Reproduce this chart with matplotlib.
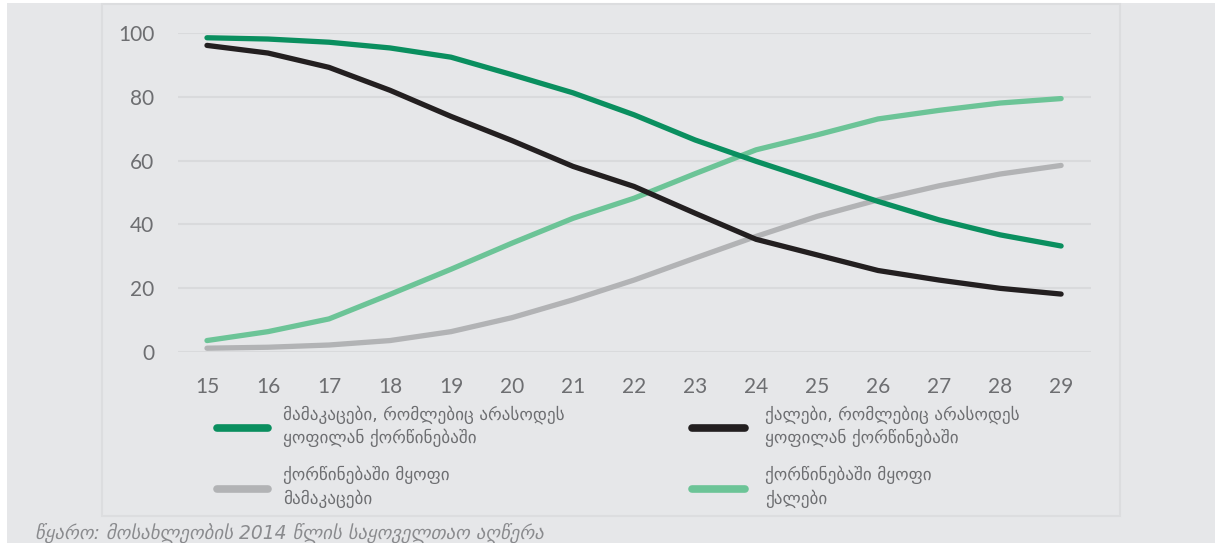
import matplotlib
matplotlib.use("Agg")
import matplotlib.pyplot as plt
from matplotlib.patches import Rectangle
from matplotlib.lines import Line2D

plt.rcParams['font.family'] = ['Lato', 'DejaVu Sans']

ages = list(range(15, 30))
men_never = [98.6, 98.2, 97.2, 95.4, 92.5, 87.0, 81.3, 74.4, 66.5, 59.8, 53.5, 47.2, 41.4, 36.7, 33.2]
women_never = [96.2, 93.8, 89.3, 82.1, 73.9, 66.3, 58.2, 51.9, 43.5, 35.3, 30.4, 25.5, 22.5, 19.9, 18.1]
men_married = [1.1, 1.4, 2.1, 3.5, 6.3, 10.7, 16.3, 22.5, 29.4, 36.2, 42.5, 47.7, 52.1, 55.8, 58.5]
women_married = [3.5, 6.3, 10.3, 18.0, 25.9, 34.1, 41.9, 48.2, 55.9, 63.4, 68.1, 73.1, 75.8, 78.1, 79.5]
y_ticks = [0, 20, 40, 60, 80, 100]

labels = [
    "მამაკაცები, რომლებიც არასოდეს\nყოფილან ქორწინებაში",
    "ქალები, რომლებიც არასოდეს\nყოფილან ქორწინებაში",
    "ქორწინებაში მყოფი\nმამაკაცები",
    "ქორწინებაში მყოფი\nქალები",
]
source_text = "წყარო: მოსახლეობის 2014 წლის საყოველთაო აღწერა"

c_men_never = '#0a8f5f'
c_women_never = '#231f20'
c_men_married = '#b2b3b5'
c_women_married = '#6cc497'
bg = '#e6e7e9'
border = '#dcdddf'
tick_color = '#6d6e71'

W, H = 1215, 543
fig = plt.figure(figsize=(W / 100, H / 100), dpi=100, facecolor='white')

# outer gray background
fig.patches.append(Rectangle((7 / W, 0), 1 - 7 / W, 1 - 3 / H, transform=fig.transFigure,
                             facecolor=bg, edgecolor='none', zorder=-2))
# inner panel border
fig.patches.append(Rectangle((102 / W, 1 - 516 / H), (1120 - 102) / W, (516 - 4) / H,
                             transform=fig.transFigure, facecolor=bg, edgecolor=border,
                             linewidth=1.5, zorder=-1))

ax_left = 178 / W
ax_right = 1091 / W
ax_bottom = 1 - 351.7 / H
ax_top = 1 - 33.3 / H
ax = fig.add_axes([ax_left, ax_bottom, ax_right - ax_left, ax_top - ax_bottom])
ax.set_facecolor('none')
ax.set_xlim(14.525, 29.49)
ax.set_ylim(0, 100)

ax.plot(ages, men_married, color=c_men_married, lw=3.8, solid_capstyle='round', clip_on=False, zorder=3)
ax.plot(ages, women_married, color=c_women_married, lw=3.8, solid_capstyle='round', clip_on=False, zorder=4)
ax.plot(ages, women_never, color=c_women_never, lw=3.8, solid_capstyle='round', clip_on=False, zorder=5)
ax.plot(ages, men_never, color=c_men_never, lw=3.8, solid_capstyle='round', clip_on=False, zorder=6)

ax.set_yticks(y_ticks)
ax.set_xticks(ages)
ax.yaxis.grid(True, color='#d9dadc', lw=1.5)
ax.set_axisbelow(True)
for s in ax.spines.values():
    s.set_visible(False)
ax.tick_params(axis='both', length=0, labelsize=15, labelcolor=tick_color)
ax.tick_params(axis='y', pad=17)
ax.tick_params(axis='x', pad=18)

# legend (manual, in figure pixel coordinates)
leg_pos = [
    (217, 268, 283, 428),
    (692, 745, 765, 428),
    (217, 268, 283, 489),
    (692, 745, 765, 489),
]
colors = [c_men_never, c_women_never, c_men_married, c_women_married]
for (x0, x1, xt, yl), col, lab in zip(leg_pos, colors, labels):
    fig.add_artist(Line2D([x0 / W, x1 / W], [1 - yl / H, 1 - yl / H], transform=fig.transFigure,
                          color=col, lw=5.5, solid_capstyle='round'))
    fig.text(xt / W, 1 - (yl - 2) / H, lab, ha='left', va='center', fontsize=12.3,
             color=tick_color, linespacing=1.35, family=['DejaVu Sans'])

fig.text(35 / W, 1 - 533 / H, source_text, ha='left', va='center', fontsize=13.5,
         color='#8a8b8e', style='italic', family=['DejaVu Sans'])

fig.savefig('out.png', dpi=100, facecolor='white')
